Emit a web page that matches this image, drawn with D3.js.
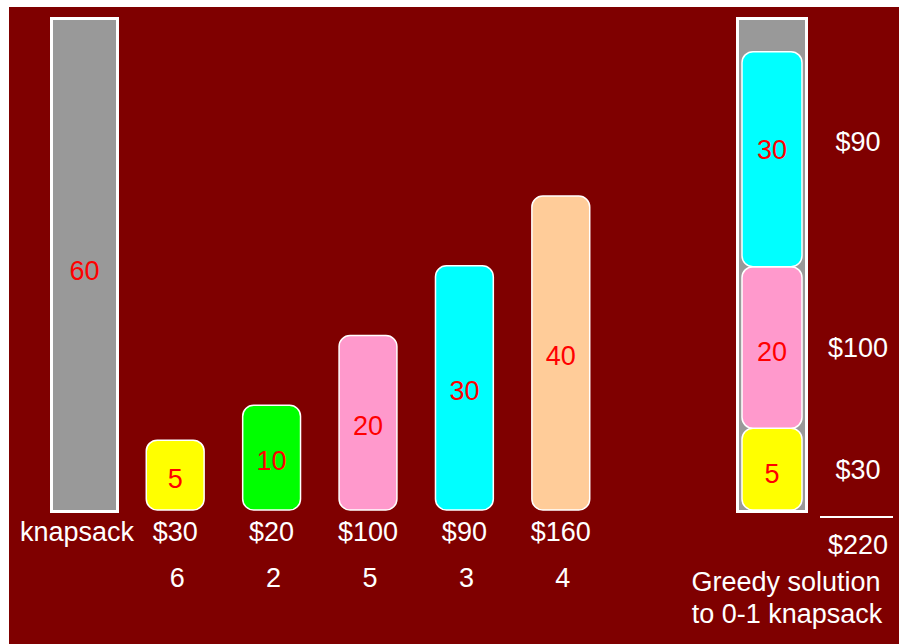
<!DOCTYPE html>
<html>
<head>
	<script src="https://cdn.jsdelivr.net/npm/d3@7"></script>
	<style>
		body { margin: 0; background: #fff; }
		text { font-family: "Liberation Sans", Arial, sans-serif; }
	</style>
</head>
<body>
	<div id="chart"></div>
	<script>
		// items: weight, value, greedy rank
		var names = ["a", "b", "c", "d", "e"];
		var weights = [5, 10, 20, 30, 40];
		var prices = ["$30", "$20", "$100", "$90", "$160"];
		var ranks = ["6", "2", "5", "3", "4"];
		var colors = ["#ffff00", "#00ff00", "#ff99cc", "#00ffff", "#ffcc99"];

		var capacity = 60;

		// greedy picks, bottom to top
		var pickWeights = [5, 20, 30];
		var pickPrices = ["$30", "$100", "$90"];
		var pickColors = ["#ffff00", "#ff99cc", "#00ffff"];
		var total = "$220";

		var width = 899, height = 644;
		var bottom = 510;

		var svg = d3.select("#chart").append("svg")
			.attr("width", width)
			.attr("height", height);

		svg.append("rect")
			.attr("x", 9).attr("y", 7)
			.attr("width", width - 9).attr("height", height - 7)
			.attr("fill", "#7f0000");

		var x = d3.scaleBand()
			.domain(names)
			.range([127, 609])
			.paddingInner(0.4)
			.paddingOuter(0.2);

		// drawn heights are not strictly proportional in the original
		var h = d3.scaleLinear().domain([0, 40]).range([35, 314]);
		var hs = d3.scaleLinear().domain([0, 30]).range([55, 215]);
		var hk = d3.scaleLinear().domain([0, capacity]).range([0, 493]);

		// knapsack on the left
		svg.append("rect")
			.attr("x", 51.5).attr("y", bottom + 1.5 - hk(capacity))
			.attr("width", 66).attr("height", hk(capacity))
			.attr("fill", "#999999")
			.attr("stroke", "#fff").attr("stroke-width", 3);
		svg.append("text")
			.attr("x", 84.5).attr("y", bottom - hk(capacity) / 2 + 7)
			.attr("text-anchor", "middle").attr("dy", "0.35em")
			.attr("font-size", 27).attr("fill", "#ff0000")
			.text(capacity);
		svg.append("text")
			.attr("x", 77).attr("y", 532)
			.attr("text-anchor", "middle").attr("dy", "0.35em")
			.attr("font-size", 27).attr("fill", "#fff")
			.text("knapsack");

		var item = svg.selectAll("g.item")
			.data(names)
			.enter().append("g")
			.attr("class", "item");

		item.append("rect")
			.attr("x", function(d) { return x(d); })
			.attr("y", function(d, i) { return bottom - h(weights[i]); })
			.attr("width", x.bandwidth())
			.attr("height", function(d, i) { return h(weights[i]); })
			.attr("rx", 11)
			.attr("fill", function(d, i) { return colors[i]; })
			.attr("stroke", "#fff").attr("stroke-width", 1.5);

		item.append("text")
			.attr("x", function(d) { return x(d) + x.bandwidth() / 2; })
			.attr("y", function(d, i) { return bottom - h(weights[i]) / 2 + 3; })
			.attr("text-anchor", "middle").attr("dy", "0.35em")
			.attr("font-size", 27).attr("fill", "#ff0000")
			.text(function(d, i) { return weights[i]; });

		item.append("text")
			.attr("x", function(d) { return x(d) + x.bandwidth() / 2; })
			.attr("y", 532)
			.attr("text-anchor", "middle").attr("dy", "0.35em")
			.attr("font-size", 27).attr("fill", "#fff")
			.text(function(d, i) { return prices[i]; });

		item.append("text")
			.attr("x", function(d) { return x(d) + x.bandwidth() / 2 + 2; })
			.attr("y", 578)
			.attr("text-anchor", "middle").attr("dy", "0.35em")
			.attr("font-size", 27).attr("fill", "#fff")
			.text(function(d, i) { return ranks[i]; });

		// greedy solution on the right
		var kx = 737.5, kw = 69;
		svg.append("rect")
			.attr("x", kx).attr("y", bottom + 1.5 - hk(capacity))
			.attr("width", kw).attr("height", hk(capacity))
			.attr("fill", "#999999")
			.attr("stroke", "#fff").attr("stroke-width", 3);

		var tops = [];
		var acc = 0;
		pickWeights.forEach(function(w) { acc += hs(w); tops.push(bottom - acc); });

		var pick = svg.selectAll("g.pick")
			.data(pickWeights)
			.enter().append("g")
			.attr("class", "pick");

		pick.append("rect")
			.attr("x", kx + 4.5)
			.attr("y", function(d, i) { return tops[i]; })
			.attr("width", kw - 9)
			.attr("height", function(d) { return hs(d); })
			.attr("rx", 11)
			.attr("fill", function(d, i) { return pickColors[i]; })
			.attr("stroke", "#fff").attr("stroke-width", 1.5);

		pick.append("text")
			.attr("x", kx + kw / 2)
			.attr("y", function(d, i) { return tops[i] + hs(d) / 2 + (i == 2 ? -10 : 4); })
			.attr("text-anchor", "middle").attr("dy", "0.35em")
			.attr("font-size", 27).attr("fill", "#ff0000")
			.text(function(d) { return d; });

		pick.append("text")
			.attr("x", 858)
			.attr("y", function(d, i) { return tops[i] + hs(d) / 2 + (i == 2 ? -18 : 0); })
			.attr("text-anchor", "middle").attr("dy", "0.35em")
			.attr("font-size", 27).attr("fill", "#fff")
			.text(function(d, i) { return pickPrices[i]; });

		svg.append("line")
			.attr("x1", 820).attr("x2", 893)
			.attr("y1", 517).attr("y2", 517)
			.attr("stroke", "#fff").attr("stroke-width", 2);

		svg.append("text")
			.attr("x", 858).attr("y", 545)
			.attr("text-anchor", "middle").attr("dy", "0.35em")
			.attr("font-size", 27).attr("fill", "#fff")
			.text(total);

		svg.append("text")
			.attr("x", 786).attr("y", 582)
			.attr("text-anchor", "middle").attr("dy", "0.35em")
			.attr("font-size", 27).attr("fill", "#fff")
			.text("Greedy solution");
		svg.append("text")
			.attr("x", 787).attr("y", 614)
			.attr("text-anchor", "middle").attr("dy", "0.35em")
			.attr("font-size", 27).attr("fill", "#fff")
			.text("to 0-1 knapsack");
	</script>
</body>
</html>
